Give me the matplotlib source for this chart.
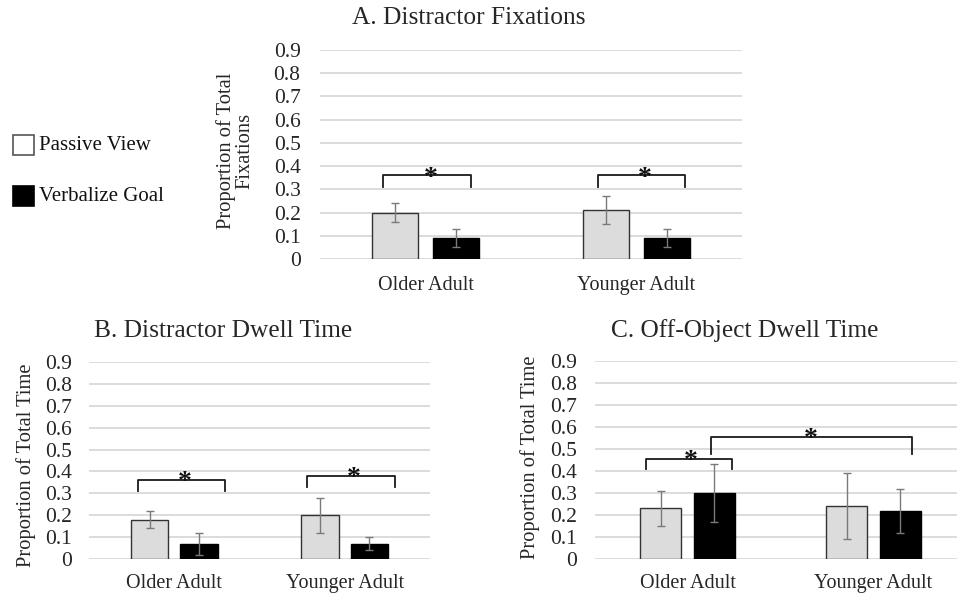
import matplotlib
matplotlib.use("Agg")
import matplotlib.pyplot as plt
from matplotlib.patches import Rectangle
import numpy as np

plt.rcParams['font.family'] = ['Liberation Serif', 'DejaVu Serif']

categories = ["Older Adult", "Younger Adult"]
series_names = ["Passive View", "Verbalize Goal"]
yticks = [0, 0.1, 0.2, 0.3, 0.4, 0.5, 0.6, 0.7, 0.8, 0.9]
ytick_labels = ["0", "0.1", "0.2", "0.3", "0.4", "0.5", "0.6", "0.7", "0.8", "0.9"]

# Panel A: Distractor Fixations
a_passive = [0.20, 0.21]
a_passive_err = [0.04, 0.06]
a_verbal = [0.09, 0.09]
a_verbal_err = [0.04, 0.04]

# Panel B: Distractor Dwell Time
b_passive = [0.18, 0.20]
b_passive_err = [0.04, 0.08]
b_verbal = [0.07, 0.07]
b_verbal_err = [0.05, 0.03]

# Panel C: Off-Object Dwell Time
c_passive = [0.23, 0.24]
c_passive_err = [0.08, 0.15]
c_verbal = [0.30, 0.22]
c_verbal_err = [0.13, 0.10]

PASSIVE_COLOR = "#dcdcdc"
VERBAL_COLOR = "#000000"
GRID_COLOR = "#d9d9d9"
TEXT_COLOR = "#262626"
ERR_COLOR = "#7a7a7a"

W, H = 957, 594
fig = plt.figure(figsize=(W / 100, H / 100), dpi=100)

BW = 0.22
OFF = 0.145
TICK_FS = 15.5
CAT_FS = 14.5
TITLE_FS = 18.3


def px_axes(left, right, y0, y09):
    return fig.add_axes([left / W, 1 - y0 / H, (right - left) / W, (y0 - y09) / H])


def draw_panel(ax, passive, passive_err, verbal, verbal_err, ytickpad, xtickpad):
    x = np.arange(len(categories))
    for t in yticks:
        ax.axhline(t, color=GRID_COLOR, lw=1.3, zorder=0)
    ax.bar(x - OFF, passive, BW, color=PASSIVE_COLOR, edgecolor="#333333", lw=1.0, zorder=2)
    ax.bar(x + OFF, verbal, BW, color=VERBAL_COLOR, edgecolor="#000000", lw=1.0, zorder=2)
    ax.errorbar(x - OFF, passive, yerr=passive_err, fmt="none", ecolor=ERR_COLOR,
                elinewidth=1.0, capsize=3, capthick=1.0, zorder=3)
    ax.errorbar(x + OFF, verbal, yerr=verbal_err, fmt="none", ecolor=ERR_COLOR,
                elinewidth=1.0, capsize=3, capthick=1.0, zorder=3)
    ax.set_xlim(-0.5, len(categories) - 0.5)
    ax.set_ylim(0, 0.9)
    ax.set_xticks(x)
    ax.set_xticklabels(categories, fontsize=CAT_FS, color=TEXT_COLOR)
    ax.set_yticks(yticks)
    ax.set_yticklabels(ytick_labels, fontsize=TICK_FS, color=TEXT_COLOR)
    ax.tick_params(axis="both", length=0)
    ax.tick_params(axis="x", pad=xtickpad)
    ax.tick_params(axis="y", pad=ytickpad)
    for s in ax.spines.values():
        s.set_visible(False)
    ax.patch.set_alpha(0)


def bracket(ax, x1, x2, ytop, ybot, xstar):
    ax.plot([x1, x1, x2, x2], [ybot, ytop, ytop, ybot], color="#1a1a1a", lw=1.3,
            clip_on=False, zorder=4)
    ax.text(xstar, ytop - 0.012, "*", ha="center", va="center", fontsize=20,
            fontweight="bold", color="#111111", zorder=5, clip_on=False)


# Panel A
axA = px_axes(320, 742, 259, 50)
draw_panel(axA, a_passive, a_passive_err, a_verbal, a_verbal_err, 14, 12)
bracket(axA, -0.20, 0.214, 0.36, 0.31, 0.023)
bracket(axA, 0.817, 1.229, 0.36, 0.31, 1.037)
fig.text(235 / W, 1 - 151 / H, "Proportion of Total\nFixations", rotation=90,
         ha="center", va="center", fontsize=14.8, color=TEXT_COLOR, linespacing=0.95,
         multialignment="center")
fig.text(469 / W, 1 - 18 / H, "A. Distractor Fixations", ha="center", va="center",
         fontsize=TITLE_FS, color=TEXT_COLOR)

# Panel B
axB = px_axes(89, 430, 559, 362)
draw_panel(axB, b_passive, b_passive_err, b_verbal, b_verbal_err, 12.5, 11)
bracket(axB, -0.215, 0.30, 0.36, 0.31, 0.063)
bracket(axB, 0.78, 1.295, 0.38, 0.33, 1.054)
fig.text(26 / W, 1 - 465 / H, "Proportion of Total Time", rotation=90,
         ha="center", va="center", fontsize=14.8, color=TEXT_COLOR)
fig.text(223 / W, 1 - 331 / H, "B. Distractor Dwell Time", ha="center", va="center",
         fontsize=TITLE_FS, color=TEXT_COLOR)

# Panel C
axC = px_axes(594.5, 966.5, 559, 361)
draw_panel(axC, c_passive, c_passive_err, c_verbal, c_verbal_err, 12.5, 11)
bracket(axC, -0.225, 0.238, 0.456, 0.41, 0.019)
bracket(axC, 0.128, 1.205, 0.553, 0.477, 0.664)
fig.text(530 / W, 1 - 457 / H, "Proportion of Total Time", rotation=90,
         ha="center", va="center", fontsize=14.8, color=TEXT_COLOR)
fig.text(745 / W, 1 - 331 / H, "C. Off-Object Dwell Time", ha="center", va="center",
         fontsize=TITLE_FS, color=TEXT_COLOR)

# Legend (manual)
fig.patches.append(Rectangle((13 / W, 1 - 155 / H), 21 / W, 20 / H, transform=fig.transFigure,
                             facecolor="white", edgecolor="#555555", lw=1.2))
fig.patches.append(Rectangle((13 / W, 1 - 206 / H), 21 / W, 20 / H, transform=fig.transFigure,
                             facecolor="black", edgecolor="black", lw=1.2))
fig.text(39 / W, 1 - 146 / H, series_names[0], ha="left", va="center", fontsize=15,
         color="#111111")
fig.text(39 / W, 1 - 196 / H, series_names[1], ha="left", va="center", fontsize=15,
         color="#111111")

fig.savefig("out.png", dpi=100, facecolor="white")
